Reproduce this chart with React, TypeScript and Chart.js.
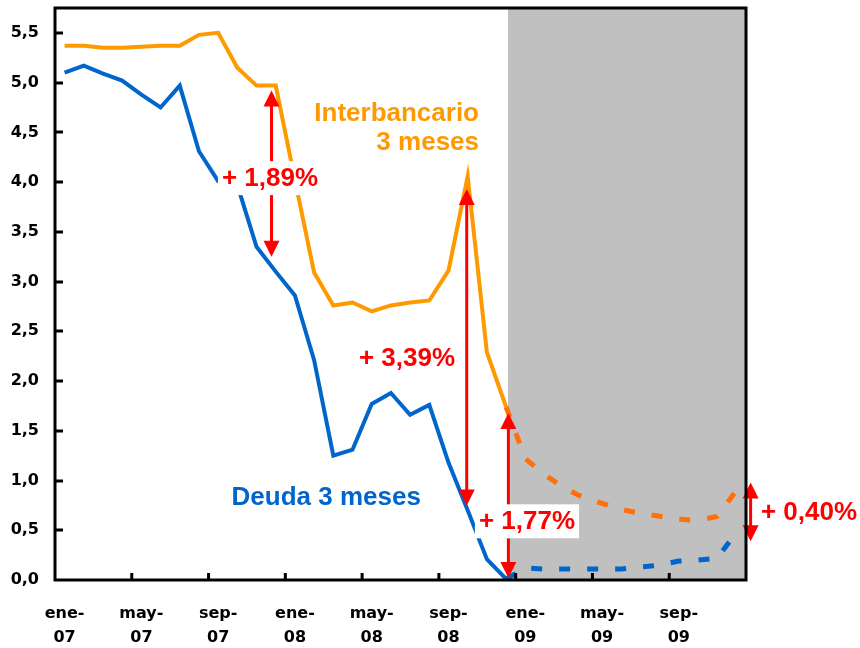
import React, { useEffect, useRef } from 'react';
import { Chart, registerables } from 'chart.js';

Chart.register(...registerables);

// ---- data ----
const categories = [
  'ene-07', 'feb-07', 'mar-07', 'abr-07', 'may-07', 'jun-07', 'jul-07', 'ago-07', 'sep-07', 'oct-07', 'nov-07', 'dic-07',
  'ene-08', 'feb-08', 'mar-08', 'abr-08', 'may-08', 'jun-08', 'jul-08', 'ago-08', 'sep-08', 'oct-08', 'nov-08', 'dic-08',
  'ene-09', 'feb-09', 'mar-09', 'abr-09', 'may-09', 'jun-09', 'jul-09', 'ago-09', 'sep-09', 'oct-09', 'nov-09', 'dic-09',
];

const xTickLabels = [
  ['ene-', '07'], ['may-', '07'], ['sep-', '07'],
  ['ene-', '08'], ['may-', '08'], ['sep-', '08'],
  ['ene-', '09'], ['may-', '09'], ['sep-', '09'],
];

// Interbancario 3 meses (observed, ene-07 .. dic-08)
const interbancarioReal = [
  5.37, 5.37, 5.35, 5.35, 5.36, 5.37, 5.37, 5.48, 5.50, 5.15, 4.97, 4.97,
  4.02, 3.09, 2.76, 2.79, 2.70, 2.76, 2.79, 2.81, 3.11, 4.06, 2.29, 1.74,
];
// Interbancario 3 meses (forecast, dic-08 .. dic-09)
const interbancarioPrevision = [1.74, 1.22, 1.06, 0.93, 0.83, 0.77, 0.71, 0.67, 0.64, 0.61, 0.60, 0.64, 0.90];

// Deuda 3 meses (observed, ene-07 .. dic-08)
const deudaReal = [
  5.10, 5.17, 5.09, 5.02, 4.88, 4.75, 4.97, 4.31, 4.01, 3.97, 3.35, 3.10,
  2.86, 2.21, 1.25, 1.31, 1.77, 1.88, 1.66, 1.76, 1.18, 0.70, 0.21, 0.01,
];
// Deuda 3 meses (forecast, dic-08 .. dic-09)
const deudaPrevision = [0.01, 0.12, 0.11, 0.11, 0.11, 0.11, 0.11, 0.13, 0.15, 0.19, 0.20, 0.22, 0.48];

const forecastStartIndex = 23;
const shadedFrom = 23.1;

// spread arrows (x = category index, values in %)
const spreadArrows = [
  { x: 10.78, from: 3.25, to: 4.92 },
  { x: 20.95, from: 0.75, to: 3.93 },
  { x: 23.12, from: 0.02, to: 1.68 },
  { x: 35.74, from: 0.39, to: 0.98 },
];

const spreadLabels = [
  { text: '+ 1,89%', x: 10.70, y: 4.04, box: true },
  { text: '+ 3,39%', x: 17.84, y: 2.23, box: false },
  { text: '+ 1,77%', x: 24.09, y: 0.59, box: true },
  { text: '+ 0,40%', x: 38.78, y: 0.69, box: false },
];

const seriesLabels = [
  { text: 'Interbancario', x: 21.59, y: 4.70, align: 'right', color: '#FF9900' },
  { text: '3 meses', x: 21.59, y: 4.40, align: 'right', color: '#FF9900' },
  { text: 'Deuda 3 meses', x: 8.70, y: 0.84, align: 'left', color: '#0066CC' },
];

const padTo = (arr: number[], start: number) => {
  const out: (number | null)[] = categories.map(() => null);
  arr.forEach((v, i) => { out[start + i] = v; });
  return out;
};

const ANNOT_FONT = 'bold 26px "Liberation Sans", Arial, sans-serif';

const decorPlugin = {
  id: 'decor',
  beforeDatasetsDraw(chart: any) {
    const { ctx, chartArea: a, scales } = chart;
    const x = scales.x;
    const gx = x.getPixelForValue(shadedFrom);
    ctx.save();
    ctx.fillStyle = '#C0C0C0';
    ctx.fillRect(gx, a.top, a.right - gx, a.bottom - a.top);
    ctx.restore();
  },
  afterDatasetsDraw(chart: any) {
    const { ctx, chartArea: a, scales } = chart;
    const x = scales.x;
    const y = scales.y;
    ctx.save();

    // arrows
    ctx.strokeStyle = '#FF0000';
    ctx.fillStyle = '#FF0000';
    spreadArrows.forEach((ar) => {
      const px = x.getPixelForValue(ar.x);
      const y1 = y.getPixelForValue(ar.to);
      const y2 = y.getPixelForValue(ar.from);
      const hl = 16, hw = 8;
      ctx.lineWidth = 3;
      ctx.beginPath();
      ctx.moveTo(px, y1 + hl - 1);
      ctx.lineTo(px, y2 - hl + 1);
      ctx.stroke();
      ctx.beginPath();
      ctx.moveTo(px, y1);
      ctx.lineTo(px - hw, y1 + hl);
      ctx.lineTo(px + hw, y1 + hl);
      ctx.closePath();
      ctx.fill();
      ctx.beginPath();
      ctx.moveTo(px, y2);
      ctx.lineTo(px - hw, y2 - hl);
      ctx.lineTo(px + hw, y2 - hl);
      ctx.closePath();
      ctx.fill();
    });

    // spread labels
    ctx.font = ANNOT_FONT;
    ctx.textBaseline = 'middle';
    spreadLabels.forEach((l) => {
      const cx = x.getPixelForValue(l.x);
      const cy = y.getPixelForValue(l.y);
      const w = ctx.measureText(l.text).width;
      if (l.box) {
        ctx.fillStyle = '#FFFFFF';
        ctx.fillRect(cx - w / 2 - 4, cy - 17, w + 8, 34);
      }
      ctx.fillStyle = '#FF0000';
      ctx.textAlign = 'center';
      ctx.fillText(l.text, cx, cy + 1);
    });

    // series labels
    seriesLabels.forEach((l) => {
      ctx.fillStyle = l.color;
      ctx.textAlign = l.align as CanvasTextAlign;
      ctx.fillText(l.text, x.getPixelForValue(l.x), y.getPixelForValue(l.y) + 1);
    });

    // frame
    ctx.strokeStyle = '#000000';
    ctx.lineWidth = 3;
    ctx.strokeRect(a.left, a.top, a.right - a.left, a.bottom - a.top);

    // inside tick marks
    ctx.lineWidth = 3;
    ctx.beginPath();
    y.ticks.forEach((t: any) => {
      if (t.value <= 0) return;
      const py = Math.round(y.getPixelForValue(t.value));
      ctx.moveTo(a.left, py);
      ctx.lineTo(a.left + 8, py);
    });
    for (let i = 4; i < categories.length; i += 4) {
      const px = (x.getPixelForValue(i - 1) + x.getPixelForValue(i)) / 2;
      ctx.moveTo(px, a.bottom);
      ctx.lineTo(px, a.bottom - 7);
    }
    ctx.stroke();
    ctx.restore();
  },
};

export default function App() {
  const ref = useRef<HTMLCanvasElement | null>(null);

  useEffect(() => {
    if (!ref.current) return;
    const tickFont = { family: '"DejaVu Sans", sans-serif', size: 16, weight: 'bold' as const };
    const chart = new Chart(ref.current, {
      type: 'line',
      data: {
        labels: categories,
        datasets: [
          {
            label: 'Interbancario 3 meses',
            data: padTo(interbancarioReal, 0),
            borderColor: '#FF9900',
            borderWidth: 4,
            pointRadius: 0,
            tension: 0,
            spanGaps: false,
          },
          {
            label: 'Interbancario 3 meses (previsión)',
            data: padTo(interbancarioPrevision, forecastStartIndex),
            borderColor: '#FF6F0A',
            borderWidth: 5,
            borderDash: [11, 17],
            pointRadius: 0,
            tension: 0,
          },
          {
            label: 'Deuda 3 meses',
            data: padTo(deudaReal, 0),
            borderColor: '#0066CC',
            borderWidth: 4,
            pointRadius: 0,
            tension: 0,
          },
          {
            label: 'Deuda 3 meses (previsión)',
            data: padTo(deudaPrevision, forecastStartIndex),
            borderColor: '#0066CC',
            borderWidth: 5,
            borderDash: [11, 17],
            pointRadius: 0,
            tension: 0,
          },
        ],
      },
      options: {
        responsive: false,
        animation: false,
        devicePixelRatio: 1,
        layout: { padding: { left: 0, top: 8, right: 114, bottom: 0 } },
        plugins: {
          legend: { display: false },
          tooltip: { enabled: false },
        },
        scales: {
          x: {
            type: 'category',
            offset: true,
            grid: { display: false, drawTicks: false, offset: true },
            border: { display: false },
            ticks: {
              autoSkip: false,
              maxRotation: 0,
              minRotation: 0,
              padding: 22,
              color: '#000000',
              font: { ...tickFont, lineHeight: '24px' },
              callback: (_v: any, idx: number) => (idx % 4 === 0 ? xTickLabels[idx / 4] : ''),
            },
            afterFit: (s: any) => { s.height = 68; },
          },
          y: {
            min: 0,
            max: 5.75,
            grid: { display: false, drawTicks: false },
            border: { display: false },
            ticks: {
              stepSize: 0.5,
              padding: 16,
              color: '#000000',
              font: { ...tickFont, lineHeight: 1 },
              callback: (v: any) => Number(v).toFixed(1).replace('.', ','),
            },
            afterBuildTicks: (s: any) => {
              s.ticks = s.ticks.filter((t: any) => Math.abs(t.value * 2 - Math.round(t.value * 2)) < 1e-6);
            },
            afterFit: (s: any) => {
              s.width = 55;
              s.paddingTop = 0;
              s.paddingBottom = 0;
            },
          },
        },
      },
      plugins: [decorPlugin],
    });
    return () => chart.destroy();
  }, []);

  return (
    <div style={{ position: 'fixed', left: 0, top: 0, width: 860, height: 648, background: '#FFFFFF' }}>
      <canvas ref={ref} width={860} height={648} style={{ width: 860, height: 648 }} />
    </div>
  );
}
